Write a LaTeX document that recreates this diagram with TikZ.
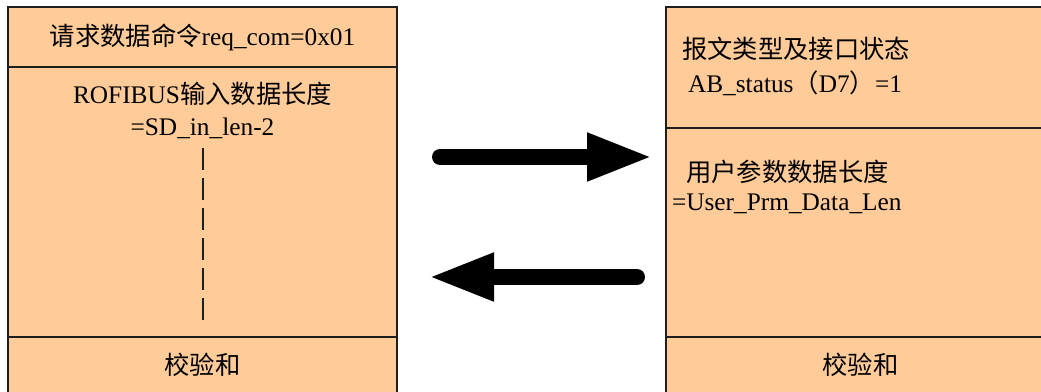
\documentclass[tikz,border=0pt]{standalone}
\usepackage{fontspec}
\setmainfont{Liberation Serif}
\newfontfamily\cjk{Noto Sans CJK SC}
\usetikzlibrary{arrows.meta}
\definecolor{peach}{RGB}{255,204,153}
\definecolor{edge}{RGB}{30,30,30}
\tikzset{
  field/.style={draw=edge, fill=peach, line width=1.5pt, minimum width=291.75pt, inner sep=0pt, outer sep=0pt},
  txt/.style={inner sep=0pt, outer sep=0pt, font=\fontsize{19}{23}\selectfont},
  bigarrow/.style={line width=12pt, line cap=round, -{Triangle[length=49.5pt 0, width=33pt 0]}},
  gap/.style={draw=edge, line width=1.5pt, dash pattern=on 16.5pt off 6pt}
}
\begin{document}
\begin{tikzpicture}[x=0.75pt, y=-0.75pt]
\useasboundingbox (0,0) rectangle (1041,392);
\clip (0,0) rectangle (1041,392);
% left frame
\node[field, minimum height=45pt] (lf1) at (202.5,37) {};
\node[field, minimum height=202.5pt] (lf2) at (202.5,202) {};
\node[field, minimum height=47.25pt] (lf3) at (202.5,368.5) {};
% right frame
\node[field, minimum height=90.75pt] (rf1) at (860.5,67.5) {};
\node[field, minimum height=156.75pt] (rf2) at (860.5,232.5) {};
\node[field, minimum height=47.25pt] (rf3) at (860.5,368.5) {};
% left texts
\node[txt, anchor=base] (t1) at (202.5,46) {{\cjk 请求数据命令}req\_com=0x01};
\node[txt, anchor=base] (t2) at (202.5,104) {ROFIBUS{\cjk 输入数据长度}};
\node[txt, anchor=base] (t3) at (202.5,136) {=SD\_in\_len-2};
\coordinate (d1) at (203,148);
\coordinate (d2) at (203,322);
\draw[gap] (d1) -- (d2);
\node[txt, anchor=base] (t4) at (202.5,374) {\cjk 校验和};
% right texts
\node[txt, anchor=base west] (r1) at (682,59) {\cjk 报文类型及接口状态};
\node[txt, anchor=base west] (r2) at (688,93) {AB\_status{\cjk （}D7{\cjk ）}=1};
\node[txt, anchor=base west] (r3) at (686,181) {\cjk 用户参数数据长度};
\node[txt, anchor=base west] (r4) at (672,210) {=User\_Prm\_Data\_Len};
\node[txt, anchor=base] (r5) at (860.5,374) {\cjk 校验和};
% arrows
\coordinate (a1s) at (440,157);
\coordinate (a1e) at (653,157);
\coordinate (a2s) at (637,277);
\coordinate (a2e) at (428,277);
\draw[bigarrow] (a1s) -- (a1e);
\draw[bigarrow] (a2s) -- (a2e);
\end{tikzpicture}
\end{document}
